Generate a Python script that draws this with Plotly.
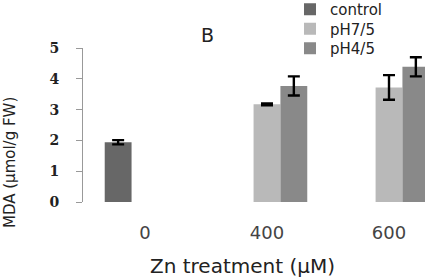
import plotly.graph_objects as go

categories = ["0", "400", "600"]
series_names = ["control", "pH7/5", "pH4/5"]
control_vals = [1.94, None, None]
control_err = [0.07, None, None]
ph7_vals = [None, 3.17, 3.72]
ph7_err = [None, 0.03, 0.40]
ph4_vals = [None, 3.77, 4.39]
ph4_err = [None, 0.31, 0.31]
colors = ["#676767", "#b9b9b9", "#898989"]

W, H = 425, 278
L, R, T, B = 83, 0, 48, 76
pw, ph = W - L - R, H - T - B


def px_x(x):
    return (x - L) / pw


def px_y(y):
    return (H - B - y) / ph


legend_ids = ["legend", "legend2", "legend3"]
legend_rows = [9.5, 29, 48.5]

fig = go.Figure()
for name, vals, errs, col, lid in zip(series_names, [control_vals, ph7_vals, ph4_vals],
                                      [control_err, ph7_err, ph4_err], colors, legend_ids):
    fig.add_trace(go.Bar(
        x=categories, y=vals, name=name, legend=lid,
        marker=dict(color=col, line=dict(width=0)),
        error_y=dict(type="data", array=errs, visible=True, color="black", thickness=2.4, width=6),
    ))

legend_style = dict(xanchor="left", yanchor="middle",
                    font=dict(family="DejaVu Sans", size=15, color="#222"),
                    bgcolor="rgba(0,0,0,0)", itemwidth=30, borderwidth=0)
legends = {}
for lid, row in zip(legend_ids, legend_rows):
    legends[lid] = dict(x=px_x(290), y=px_y(row), **legend_style)

fig.update_layout(
    width=W, height=H,
    margin=dict(l=L, r=R, t=T, b=B, autoexpand=False),
    paper_bgcolor="white", plot_bgcolor="white",
    barmode="group", bargap=0.34, bargroupgap=0,
    showlegend=True,
    xaxis=dict(range=[-0.508, 2.295], showline=False, showgrid=False, zeroline=False,
               ticks="", tickfont=dict(family="DejaVu Sans", size=18, color="#444"),
               ticklabelstandoff=18),
    yaxis=dict(range=[0, 5], dtick=1, showline=True, linecolor="#999", linewidth=1,
               showgrid=False, zeroline=False, ticks="outside", ticklen=6, tickcolor="#999",
               ticklabelstandoff=14,
               tickfont=dict(family="DejaVu Serif", size=14, color="#222", weight="bold")),
    annotations=[
        dict(text="B", x=px_x(207), y=px_y(35), xref="paper", yref="paper", showarrow=False,
             xanchor="center", yanchor="middle",
             font=dict(family="DejaVu Sans", size=19, color="#222")),
        dict(text="MDA (µmol/g FW)", x=px_x(10), y=px_y(163), xref="paper", yref="paper",
             showarrow=False, textangle=-90, xanchor="center", yanchor="middle",
             font=dict(family="DejaVu Sans", size=15, color="#222")),
        dict(text="Zn treatment (µM)", x=px_x(242), y=px_y(266), xref="paper", yref="paper",
             showarrow=False, xanchor="center", yanchor="middle",
             font=dict(family="DejaVu Sans", size=20, color="#222")),
    ],
    **legends,
)

fig.write_html("out.html", config={"displayModeBar": False},
               post_script="document.body.style.margin='0';")
